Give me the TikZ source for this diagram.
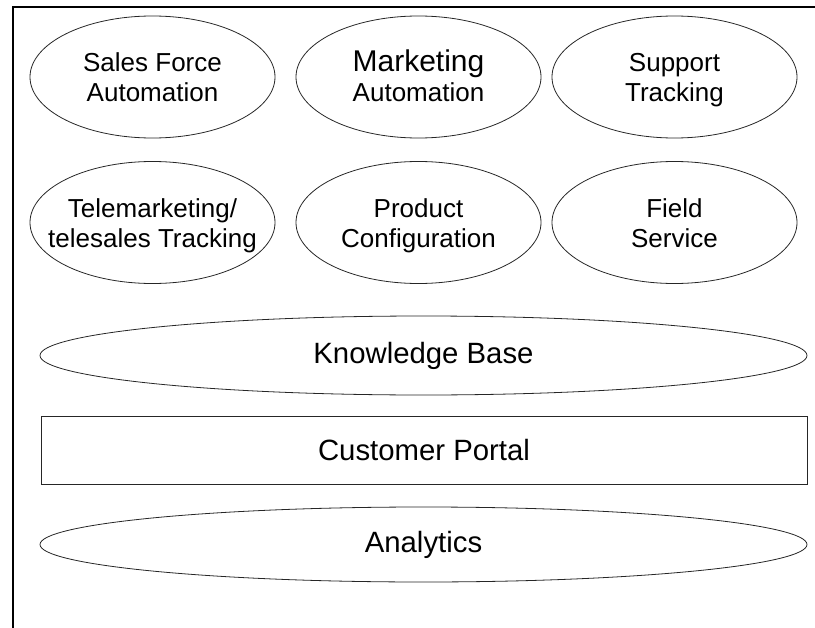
\documentclass[tikz,border=0pt]{standalone}
\usepackage{fontspec}
\setmainfont{Liberation Sans}
\usetikzlibrary{positioning,calc,shapes.geometric}
\tikzset{font=\fontsize{19.5}{22.5}\selectfont}

\begin{document}
\begin{tikzpicture}[x=0.75pt, y=-0.75pt]
	\useasboundingbox (0, 0) rectangle (815, 628);
	\draw[line width=1.5pt] (13, 628) -- (13, 7) -- (815, 7);
	\begin{scope}
		\tikzstyle{every node}=[align=center, inner sep=0pt]
		\tikzstyle{ring}=[draw=black!85, line width=0.6pt]
		\tikzstyle{layer}=[font=\fontsize{22}{24}\selectfont]
		\node (sfa)  at (152.5, 80.5) {\strut Sales Force\\\strut Automation};
		\node (mkt)  at (418.5, 80.5) {\strut{\fontsize{22.5}{22.5}\selectfont Marketing}\\\strut Automation};
		\node (sup)  at (674.5, 80.5) {\strut Support\\\strut Tracking};
		\node (tele) at (152.5, 226) {\strut Telemarketing/\\\strut telesales Tracking};
		\node (prod) at (418.5, 226) {\strut Product\\\strut Configuration};
		\node (fld)  at (674.5, 226) {\strut Field\\\strut Service};
		
		\foreach \m in {sfa, mkt, sup, tele, prod, fld}
			\draw[ring] ($(\m.center)+(0,-3.5)$) ellipse [x radius=122.5, y radius=61];
		
		\node[layer] (kb)  at (423.5, 355.5) {Knowledge Base};
		\node[layer, draw=black!85, line width=0.6pt, minimum width=574.5pt, minimum height=51pt] (portal) at (424, 450) {Customer Portal};
		\node[layer] (ana) at (423.5, 544.5) {Analytics};
		
		\draw[ring] (kb.center) ellipse [x radius=383.5, y radius=39.5];
		\draw[ring] (ana.center) ellipse [x radius=383.5, y radius=37.5];
	\end{scope}
\end{tikzpicture}
\end{document}
